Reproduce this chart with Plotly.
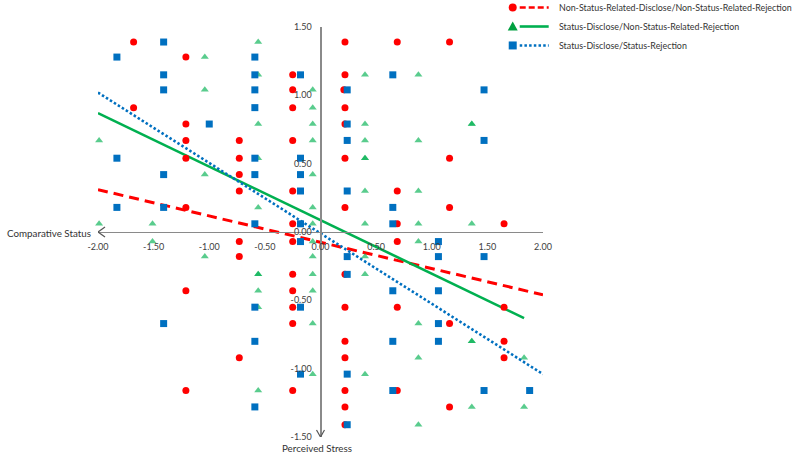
import plotly.graph_objects as go

# ---------------- data ----------------
red_x = [-1.68, 0.22, 0.69, 1.16,
         -1.21,
         -0.25, 0.22,
         -0.25, 0.21,
         -1.68, -0.25, 0.22,
         -1.21, 0.22,
         -1.21, -0.73, -0.25,
         -1.21, -0.73, 0.22, 1.16,
         -0.73,
         -0.73, -0.25, 0.69,
         -1.21, 0.22, 1.16,
         -0.25, 0.69, 1.65,
         -0.73, -0.25, 0.69,
         -0.73,
         -0.25, 0.22,
         -1.21, -0.25,
         -0.25, 0.22, 0.69, 1.65,
         -0.25, 1.16,
         0.22, 1.65,
         -0.73, 0.22, 1.65,
         -1.21, -0.25, 0.22, 0.69,
         0.22, 1.16,
         0.22]
red_y = [1.39, 1.39, 1.39, 1.39,
         1.28,
         1.15, 1.15,
         1.04, 1.04,
         0.91, 0.91, 0.91,
         0.79, 0.79,
         0.67, 0.67, 0.67,
         0.54, 0.54, 0.54, 0.54,
         0.42,
         0.30, 0.30, 0.30,
         0.18, 0.18, 0.18,
         0.06, 0.06, 0.06,
         -0.07, -0.07, -0.07,
         -0.18,
         -0.31, -0.31,
         -0.43, -0.43,
         -0.55, -0.55, -0.55, -0.55,
         -0.67, -0.67,
         -0.80, -0.80,
         -0.92, -0.92, -0.92,
         -1.16, -1.16, -1.16, -1.16,
         -1.28, -1.28,
         -1.41]

green_x = [-0.56,
           -1.04,
           -0.56, 0.40, 0.88,
           -1.04, -0.07,
           -0.07,
           -0.56, -0.07, 0.40, 1.36, 1.36,
           -1.99, -0.07, 0.40, 0.88,
           -0.56, 0.40, 0.40,
           -1.04, -0.07,
           0.40, 0.88,
           -0.56, -0.07,
           -1.99, -1.51, -0.07, 0.40, 0.88, 1.36,
           -1.51, -0.07, 0.88,
           -1.04, -0.07, 0.40,
           -0.56, -0.56, -0.07, 0.40,
           -0.56, -0.07,
           -0.56,
           -0.07, 0.88,
           1.36, 1.36,
           0.88, 1.83,
           -0.07, 0.40,
           -0.56,
           1.36, 1.83,
           0.88]
green_y = [1.39,
           1.28,
           1.15, 1.15, 1.15,
           1.04, 1.04,
           0.91,
           0.79, 0.79, 0.79, 0.79, 0.79,
           0.67, 0.67, 0.67, 0.67,
           0.54, 0.54, 0.54,
           0.42, 0.42,
           0.30, 0.30,
           0.18, 0.18,
           0.06, 0.06, 0.06, 0.06, 0.06, 0.06,
           -0.07, -0.07, -0.07,
           -0.18, -0.18, -0.18,
           -0.31, -0.31, -0.31, -0.31,
           -0.43, -0.43,
           -0.55,
           -0.67, -0.67,
           -0.80, -0.80,
           -0.92, -0.92,
           -1.04, -1.04,
           -1.16,
           -1.28, -1.28,
           -1.41]

blue_x = [-1.41,
          -1.83, -0.59,
          -1.41, -0.59, -0.18, 0.65,
          -1.41, -0.59, 0.24, 1.47,
          -0.59,
          -1.00, 0.24,
          0.24, 1.47,
          -1.83, -0.59, -0.18,
          -1.41, -0.59, -0.18,
          -0.18, 0.24,
          -1.83, -1.41, 0.65,
          -0.59, -0.18, 0.65,
          -0.18, 1.06,
          0.24, 1.06, 1.47,
          0.24,
          0.65, 1.06,
          -0.59, -0.18,
          -1.41, 1.06,
          -0.59, 0.65, 1.06,
          -0.18, 0.24,
          0.65, 1.47, 1.88,
          -0.59,
          0.24]
blue_y = [1.39,
          1.28, 1.28,
          1.15, 1.15, 1.15, 1.15,
          1.04, 1.04, 1.04, 1.04,
          0.91,
          0.79, 0.79,
          0.67, 0.67,
          0.54, 0.54, 0.54,
          0.42, 0.42, 0.42,
          0.30, 0.30,
          0.18, 0.18, 0.18,
          0.06, 0.06, 0.06,
          -0.07, -0.07,
          -0.18, -0.18, -0.18,
          -0.31,
          -0.43, -0.43,
          -0.55, -0.55,
          -0.67, -0.67,
          -0.80, -0.80, -0.80,
          -1.04, -1.04,
          -1.16, -1.16, -1.16,
          -1.28,
          -1.41]

# trend lines (end points)
red_trend_x = [-2.0, 2.0]
red_trend_y = [0.31, -0.46]
green_trend_x = [-2.0, 1.83]
green_trend_y = [0.87, -0.63]
blue_trend_x = [-2.0, 2.0]
blue_trend_y = [1.02, -1.04]

x_ticks = [-2.0, -1.5, -1.0, -0.5, 0.0, 0.5, 1.0, 1.5, 2.0]
x_tick_text = ["-2.00", "-1.50", "-1.00", "-0.50", "0.00", "0.50", "1.00", "1.50", "2.00"]
y_ticks = [-1.5, -1.0, -0.5, 0.0, 0.5, 1.0, 1.5]
y_tick_text = ["-1.50", "-1.00", "-0.50", "0.00", "0.50", "1.00", "1.50"]

legend_names = ["Non-Status-Related-Disclose/Non-Status-Related-Rejection",
                "Status-Disclose/Non-Status-Related-Rejection",
                "Status-Disclose/Status-Rejection"]

RED = "#FF0000"
GREEN = "#00B050"
BLUE = "#0070C0"
FONT = "Lato"

# ---------------- layout geometry ----------------
W, H = 800, 458
ML, MR, MT, MB = 98, 256.7, 26.5, 20.5
PW = W - ML - MR
PH = H - MT - MB


def pxx(x):
    return (x - ML) / PW


def pxy(y):
    return (H - MB - y) / PH


fig = go.Figure()

# trend lines
fig.add_trace(go.Scatter(x=red_trend_x, y=red_trend_y, mode="lines",
                         line=dict(color=RED, width=3, dash="10px,6px"),
                         showlegend=False, hoverinfo="skip"))
fig.add_trace(go.Scatter(x=green_trend_x, y=green_trend_y, mode="lines",
                         line=dict(color=GREEN, width=2.6),
                         showlegend=False, hoverinfo="skip"))
fig.add_trace(go.Scatter(x=blue_trend_x, y=blue_trend_y, mode="lines",
                         line=dict(color=BLUE, width=2.6, dash="2.5px,2.2px"),
                         showlegend=False, hoverinfo="skip"))

# points
fig.add_trace(go.Scatter(x=green_x, y=green_y, mode="markers", name=legend_names[1],
                         marker=dict(symbol="triangle-up", size=7, color=GREEN, opacity=0.65),
                         showlegend=False, cliponaxis=False))
fig.add_trace(go.Scatter(x=red_x, y=red_y, mode="markers", name=legend_names[0],
                         marker=dict(symbol="circle", size=7, color=RED),
                         showlegend=False, cliponaxis=False))
fig.add_trace(go.Scatter(x=blue_x, y=blue_y, mode="markers", name=legend_names[2],
                         marker=dict(symbol="square", size=7, color=BLUE),
                         showlegend=False, cliponaxis=False))

axis_common = dict(showgrid=False, zeroline=False, showline=True,
                   linecolor="#8a8a8a", anchor="free", position=0.5,
                   ticks="outside", ticklen=6, tickcolor="rgba(0,0,0,0)",
                   tickfont=dict(family=FONT, size=9, color="#404040"))

fig.update_layout(
    width=W, height=H,
    margin=dict(l=ML, r=MR, t=MT, b=MB),
    paper_bgcolor="white", plot_bgcolor="white",
    xaxis=dict(range=[-2, 2], tickvals=x_ticks, ticktext=x_tick_text,
               linewidth=1.3, **axis_common),
    yaxis=dict(range=[-1.5, 1.5], tickvals=y_ticks, ticktext=y_tick_text,
               linewidth=2, **axis_common),
    showlegend=False,
)

# axis arrow heads (open chevrons)
arrow_style = dict(color="#555555", width=1.2)
for dy in (5, -5):
    fig.add_shape(type="line", xref="x", yref="y",
                  xsizemode="pixel", xanchor=-2, x0=0, x1=7,
                  ysizemode="pixel", yanchor=0, y0=0, y1=dy,
                  line=arrow_style)
for dx in (4, -4):
    fig.add_shape(type="line", xref="x", yref="y",
                  xsizemode="pixel", xanchor=0, x0=0, x1=dx,
                  ysizemode="pixel", yanchor=-1.5, y0=0, y1=7,
                  line=arrow_style)

# axis titles
fig.add_annotation(text="Comparative Status", xref="paper", yref="paper",
                   x=pxx(93), y=pxy(233), xanchor="right", yanchor="middle",
                   showarrow=False, font=dict(family=FONT, size=9.8, color="#333333"))
fig.add_annotation(text="Perceived Stress", xref="paper", yref="paper",
                   x=pxx(317), y=pxy(449), xanchor="center", yanchor="middle",
                   showarrow=False, font=dict(family=FONT, size=9.8, color="#333333"))

# manual legend
leg_y = [7, 26, 45]
leg_colors = [RED, GREEN, BLUE]
leg_dash = ["6px,3px", "solid", "2.5px,2.2px"]
mx, l0, l1, tx = 513, 520, 549, 557
for i in range(3):
    yy = leg_y[i]
    fig.add_shape(type="line", xref="paper", yref="paper",
                  x0=pxx(l0), x1=pxx(l1), y0=pxy(yy), y1=pxy(yy),
                  line=dict(color=leg_colors[i], width=2.6, dash=leg_dash[i]))
    if i == 0:
        fig.add_shape(type="circle", xref="paper", yref="paper",
                      x0=pxx(mx - 4), x1=pxx(mx + 4), y0=pxy(yy + 4), y1=pxy(yy - 4),
                      fillcolor=RED, line=dict(width=0))
    elif i == 1:
        path = "M {},{} L {},{} L {},{} Z".format(
            pxx(mx - 5), pxy(yy + 4), pxx(mx + 5), pxy(yy + 4), pxx(mx), pxy(yy - 5))
        fig.add_shape(type="path", xref="paper", yref="paper", path=path,
                      fillcolor="#00A040", line=dict(width=0))
    else:
        fig.add_shape(type="rect", xref="paper", yref="paper",
                      x0=pxx(mx - 4), x1=pxx(mx + 4), y0=pxy(yy + 4), y1=pxy(yy - 4),
                      fillcolor=BLUE, line=dict(width=0))
    fig.add_annotation(text=legend_names[i], xref="paper", yref="paper",
                       x=pxx(tx), y=pxy(yy), xanchor="left", yanchor="middle",
                       showarrow=False, font=dict(family=FONT, size=8.9, color="#333333"))

fig.write_html("out.html", config={"displayModeBar": False},
               post_script="document.body.style.margin='0';document.body.style.overflow='hidden';")
